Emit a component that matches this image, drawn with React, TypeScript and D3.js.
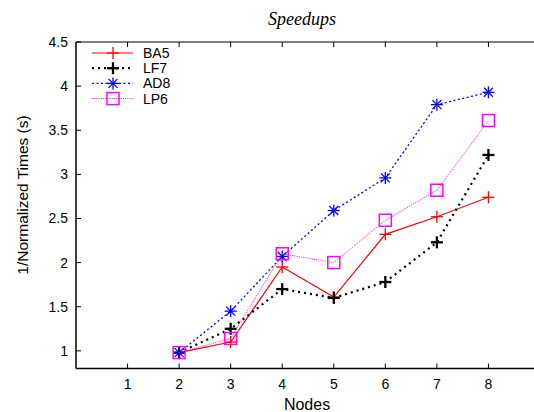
import React from "react";
import * as d3 from "d3";

// chart data
const nodes = [2, 3, 4, 5, 6, 7, 8];
const ba5 = [0.98, 1.1, 1.95, 1.61, 2.32, 2.52, 2.74];
const lf7 = [0.98, 1.25, 1.7, 1.6, 1.78, 2.23, 3.22];
const ad8 = [0.98, 1.45, 2.07, 2.59, 2.96, 3.79, 3.93];
const lp6 = [0.98, 1.14, 2.1, 2.0, 2.48, 2.82, 3.61];
const xTicks = [1, 2, 3, 4, 5, 6, 7, 8];
const yTicks = [1, 1.5, 2, 2.5, 3, 3.5, 4, 4.5];

const series = [
  { name: "BA5", values: ba5, color: "#ff0000", width: 1.2, dash: "", marker: "plus" },
  { name: "LF7", values: lf7, color: "#000000", width: 2.2, dash: "2,4", marker: "plusBold" },
  { name: "AD8", values: ad8, color: "#0000ff", width: 1.3, dash: "2,2.5", marker: "star" },
  { name: "LP6", values: lp6, color: "#ff00ff", width: 1, dash: "1,1.2", marker: "square" },
];

const W = 534;
const H = 412;
const left = 76;
const right = 540;
const top = 42;
const bottom = 368.5;

const Marker = ({ kind, x, y, color }: { kind: string; x: number; y: number; color: string }) => {
  const s = 6;
  if (kind === "square") {
    return <rect x={x - 6} y={y - 6} width={12} height={12} fill="none" stroke={color} strokeWidth={1.5} />;
  }
  const sw = kind === "plusBold" ? 2.3 : 1.3;
  return (
    <g stroke={color} strokeWidth={sw}>
      <line x1={x - s} x2={x + s} y1={y} y2={y} />
      <line x1={x} x2={x} y1={y - s} y2={y + s} />
      {kind === "star" && (
        <>
          <line x1={x - 4.5} x2={x + 4.5} y1={y - 4.5} y2={y + 4.5} />
          <line x1={x - 4.5} x2={x + 4.5} y1={y + 4.5} y2={y - 4.5} />
        </>
      )}
    </g>
  );
};

export default function App() {
  const x = d3.scaleLinear().domain([0, 9]).range([left, right]);
  const y = d3.scaleLinear().domain([0.8, 4.5]).range([bottom, top]);
  const line = d3
    .line<number>()
    .x((_, i) => x(nodes[i]))
    .y((d) => y(d));

  const font = "'Liberation Sans', Arial, sans-serif";

  return (
    <svg
      width={W}
      height={H}
      style={{ position: "absolute", left: 0, top: 0, background: "#fff" }}
      fontFamily={font}
    >
      {/* title */}
      <text x={302} y={25} textAnchor="middle" fontFamily="'Liberation Serif', 'Times New Roman', serif" fontStyle="italic" fontSize={18}>
        Speedups
      </text>

      {/* frame */}
      <g stroke="#000" fill="none">
        <line x1={left} x2={W} y1={top} y2={top} strokeWidth={1.2} />
        <line x1={left} x2={W} y1={bottom} y2={bottom} strokeWidth={1.5} />
        <line x1={left} x2={left} y1={top} y2={bottom} strokeWidth={1.5} />
      </g>

      {/* x ticks */}
      {xTicks.map((t) => (
        <g key={t}>
          <line x1={x(t)} x2={x(t)} y1={bottom} y2={bottom - 5} stroke="#000" />
          <line x1={x(t)} x2={x(t)} y1={top} y2={top + 5} stroke="#000" />
          <text x={x(t)} y={389} textAnchor="middle" fontSize={14}>
            {t}
          </text>
        </g>
      ))}

      {/* y ticks */}
      {yTicks.map((t) => (
        <g key={t}>
          <line x1={left} x2={left + 5} y1={y(t)} y2={y(t)} stroke="#000" />
          <text x={68} y={y(t) + 5} textAnchor="end" fontSize={14}>
            {t}
          </text>
        </g>
      ))}

      {/* axis labels */}
      <text x={307} y={410} textAnchor="middle" fontSize={16}>
        Nodes
      </text>
      <text transform={`translate(28,195) rotate(-90)`} textAnchor="middle" fontSize={15.5}>
        1/Normalized Times (s)
      </text>

      {/* series */}
      {series.map((s) => (
        <g key={s.name}>
          <path d={line(s.values) || ""} fill="none" stroke={s.color} strokeWidth={s.width} strokeDasharray={s.dash} />
          {s.values.map((v, i) => (
            <Marker key={i} kind={s.marker} x={x(nodes[i])} y={y(v)} color={s.color} />
          ))}
        </g>
      ))}

      {/* legend */}
      {series.map((s, i) => {
        const ly = 53 + i * 15.2;
        return (
          <g key={s.name}>
            <line x1={92} x2={133} y1={ly} y2={ly} stroke={s.color} strokeWidth={s.width} strokeDasharray={s.dash} />
            <Marker kind={s.marker} x={113} y={ly} color={s.color} />
            <text x={143} y={ly + 5} fontSize={14}>
              {s.name}
            </text>
          </g>
        );
      })}
    </svg>
  );
}
